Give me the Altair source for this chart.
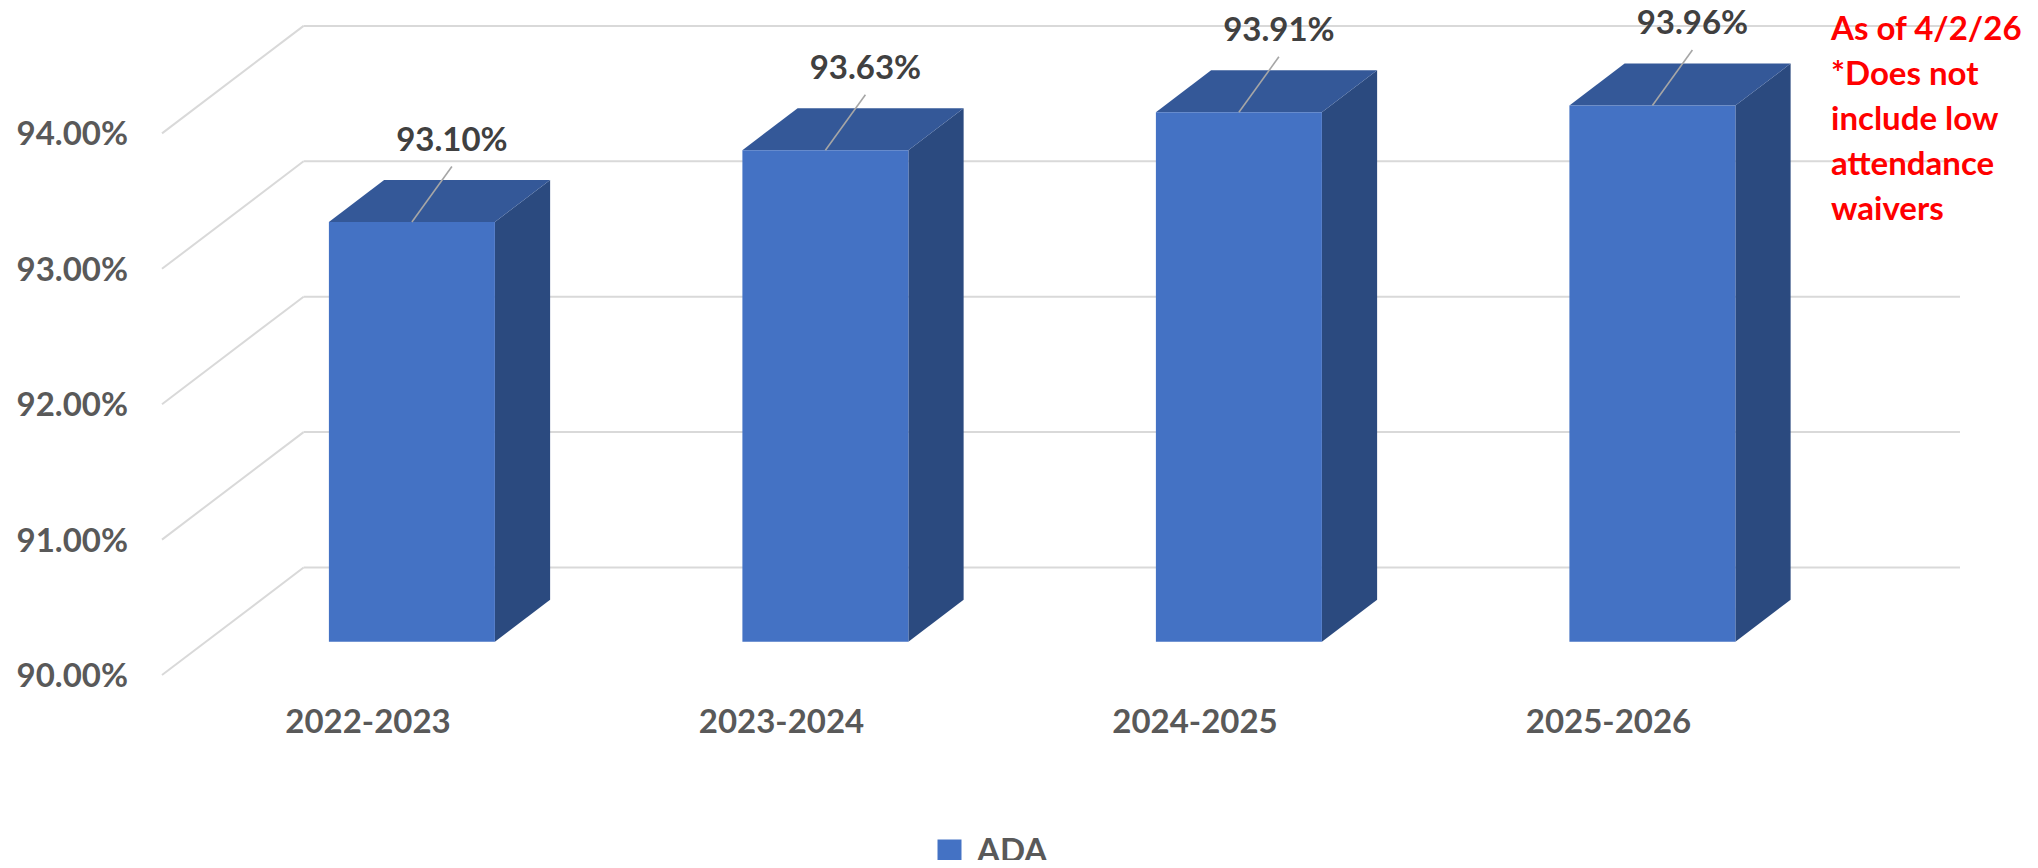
import altair as alt
import pandas as pd

# ---------------- data ----------------
categories = ["2022-2023", "2023-2024", "2024-2025", "2025-2026"]
ada_values = [93.10, 93.63, 93.91, 93.96]
series_name = "ADA"
y_ticks = [90, 91, 92, 93, 94]
note_lines = ["As of 4/2/26", "*Does not", "include low", "attendance", "waivers"]

# ---------------- layout / style constants ----------------
W, H = 1866, 852
PAD_LEFT = 154
CAT_PX = 413.5          # px per category step
PCT_PX = 135.4          # px per 1 percentage point
FRONT_CENTER0_PX = 206  # plot px of first category at the front plane
FRONT_BASE_PX = 667     # plot px of 90% at front plane
BOX_DX_PX, BOX_DY_PX = 141.6, 107.5   # depth of the 3-D box
F_FRONT, F_BACK = 0.31, 0.70          # bar depth position (fraction of box)
BAR_HALF_PX = 83
RIGHT_END_PX = 1798
LABEL_DX_PX, LABEL_UP_PX, LEADER_GAP_PX = 40, 81, 25.5
BASE = 90.0

X_MIN = -FRONT_CENTER0_PX / CAT_PX
X_MAX = (W - FRONT_CENTER0_PX) / CAT_PX
Y_MIN = BASE - (H - FRONT_BASE_PX) / PCT_PX
Y_MAX = BASE + FRONT_BASE_PX / PCT_PX


def ddx(f):
    return f * BOX_DX_PX / CAT_PX


def ddy(f):
    return f * BOX_DY_PX / PCT_PX


HW = BAR_HALF_PX / CAT_PX
FONT = "Lato"
FS = 33

front_rows, side_rows, top_rows, label_rows = [], [], [], []
for i, (cat, v) in enumerate(zip(categories, ada_values)):
    L0 = i + ddx(F_FRONT) - HW
    R0 = i + ddx(F_FRONT) + HW
    L1 = i + ddx(F_BACK) - HW
    R1 = i + ddx(F_BACK) + HW
    B0, T0 = BASE + ddy(F_FRONT), v + ddy(F_FRONT)
    B1, T1 = BASE + ddy(F_BACK), v + ddy(F_BACK)
    front_rows.append(dict(bar=cat, series=series_name, x=L0, x2=R0, y=B0, y2=T0))
    side_rows += [dict(bar=cat, x=R0, y=B0, y2=T0), dict(bar=cat, x=R1, y=B1, y2=T1)]
    top_rows += [
        dict(bar=cat, x=L0, y=T0, y2=T0),
        dict(bar=cat, x=L1, y=T0, y2=T1),
        dict(bar=cat, x=R0, y=T0, y2=T1),
        dict(bar=cat, x=R1, y=T1, y2=T1),
    ]
    cx = i + ddx(F_FRONT)
    lx = cx + LABEL_DX_PX / CAT_PX
    label_rows.append(dict(
        bar=cat, value=v, text=f"{v:.2f}%",
        x=cx, y=T0,
        lx=lx, ly=T0 + LABEL_UP_PX / PCT_PX,
        leader_y=T0 + (LABEL_UP_PX - LEADER_GAP_PX) / PCT_PX,
    ))

front_df = pd.DataFrame(front_rows)
side_df = pd.DataFrame(side_rows)
top_df = pd.DataFrame(top_rows)
label_df = pd.DataFrame(label_rows)

grid_df = pd.DataFrame([
    dict(v=t, text=f"{t:.2f}%",
         bx=X_MIN + ddx(1.0), bx2=(RIGHT_END_PX - FRONT_CENTER0_PX) / CAT_PX, by=t + ddy(1.0),
         fx=X_MIN, fy=t)
    for t in y_ticks
])
cat_df = pd.DataFrame(dict(cat=categories, x=list(range(len(categories)))))
note_df = pd.DataFrame(dict(text=["\n".join(note_lines)]))

xs = alt.Scale(domain=[X_MIN, X_MAX], nice=False, zero=False)
ys = alt.Scale(domain=[Y_MIN, Y_MAX], nice=False, zero=False)

GRID_COLOR = "#d9d9d9"

# y-axis tick labels at the front plane
y_labels = alt.Chart(grid_df).mark_text(
    font=FONT, fontSize=FS, fontWeight="bold", color="#595959",
    align="right", baseline="middle", dx=-34, dy=2
).encode(
    x=alt.X("fx:Q", scale=xs, axis=None),
    y=alt.Y("fy:Q", scale=ys, axis=None),
    text="text:N",
)

back_grid = alt.Chart(grid_df).mark_rule(color=GRID_COLOR, strokeWidth=2).encode(
    x=alt.X("bx:Q", scale=xs, axis=None), x2="bx2:Q",
    y=alt.Y("by:Q", scale=ys, axis=None),
)
diag_grid = alt.Chart(grid_df).mark_rule(color=GRID_COLOR, strokeWidth=2).encode(
    x=alt.X("fx:Q", scale=xs, axis=None), x2="bx:Q",
    y=alt.Y("fy:Q", scale=ys, axis=None), y2="by:Q",
)

side = alt.Chart(side_df).mark_area(color="#2B4A7F").encode(
    x=alt.X("x:Q", scale=xs, axis=None),
    y=alt.Y("y:Q", scale=ys, axis=None, stack=None), y2="y2:Q",
    detail="bar:N",
)
top = alt.Chart(top_df).mark_area(color="#345898").encode(
    x=alt.X("x:Q", scale=xs, axis=None),
    y=alt.Y("y:Q", scale=ys, axis=None, stack=None), y2="y2:Q",
    detail="bar:N",
)
front = alt.Chart(front_df).mark_rect().encode(
    x=alt.X("x:Q", scale=xs, axis=None), x2="x2:Q",
    y=alt.Y("y:Q", scale=ys, axis=None), y2="y2:Q",
    color=alt.Color("series:N",
                    scale=alt.Scale(domain=[series_name], range=["#4472C4"]),
                    legend=alt.Legend(
                        orient="none", legendX=771, legendY=827, title=None,
                        symbolType="square", symbolSize=576, symbolStrokeWidth=0,
                        labelFont=FONT, labelFontSize=FS, labelFontWeight="bold",
                        labelColor="#595959", labelOffset=11, padding=0)),
)

leaders = alt.Chart(label_df).mark_rule(color="#a6a6a6", strokeWidth=1.6).encode(
    x=alt.X("x:Q", scale=xs, axis=None), x2="lx:Q",
    y=alt.Y("y:Q", scale=ys, axis=None), y2="leader_y:Q",
)
labels = alt.Chart(label_df).mark_text(
    font=FONT, fontSize=FS, fontWeight="bold", color="#404040", baseline="middle"
).encode(
    x=alt.X("lx:Q", scale=xs, axis=None),
    y=alt.Y("ly:Q", scale=ys, axis=None),
    text="text:N",
)

cat_labels = alt.Chart(cat_df).mark_text(
    font=FONT, fontSize=FS, fontWeight="bold", color="#595959", baseline="middle"
).encode(
    x=alt.X("x:Q", scale=xs, axis=None),
    y=alt.value(714.5),
    text="cat:N",
)

note = alt.Chart(note_df).mark_text(
    font=FONT, fontSize=FS, fontWeight="bold", color="#ff0000",
    align="left", baseline="alphabetic", lineBreak="\n", lineHeight=45
).encode(
    x=alt.value(1669), y=alt.value(32), text="text:N",
)

chart = alt.layer(
    back_grid, diag_grid, y_labels, side, top, front, leaders, labels, cat_labels, note
).properties(
    width=W, height=H,
    autosize=alt.AutoSizeParams(type="none"),
    padding={"left": PAD_LEFT, "top": 0, "right": 0, "bottom": 0},
).configure_view(strokeWidth=0)

chart.save("out.html", embed_options={"renderer": "svg", "actions": False})
